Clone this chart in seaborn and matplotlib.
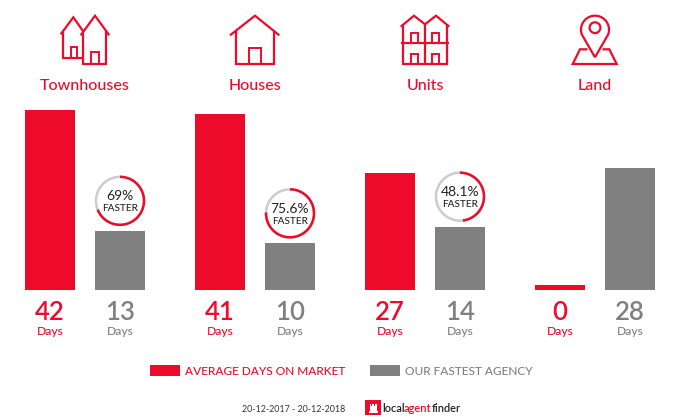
import numpy as np
import pandas as pd
import matplotlib
matplotlib.use("Agg")
import matplotlib.pyplot as plt
import seaborn as sns
from matplotlib.patches import Circle, Rectangle

RED = "#ee0a2a"
GREY = "#808080"

categories = ["Townhouses", "Houses", "Units", "Land"]
average_days = [42, 41, 27, 0]
fastest_days = [13, 10, 14, 28]
faster_pct = [69, 75.6, 48.1, None]
faster_labels = ["69%", "75.6%", "48.1%", None]
series_names = ["AVERAGE DAYS ON MARKET", "OUR FASTEST AGENCY"]

# the chart keeps a small stub under zero so the 0 day bar still shows
STUB = 1.2

sns.set_theme(style="white")
plt.rcParams["font.family"] = ["Lato", "DejaVu Sans"]

df = pd.DataFrame({
    "category": categories * 2,
    "series": [series_names[0]] * 4 + [series_names[1]] * 4,
    "days": average_days + fastest_days,
})
df["height"] = df["days"] + STUB

fig = plt.figure(figsize=(7, 4.2), dpi=100)
ax = fig.add_axes([0, 130 / 420, 1, 180 / 420])
sns.barplot(data=df, x="category", y="height", hue="series", order=categories,
            hue_order=series_names, palette=[RED, GREY], width=0.8235, gap=0.2857,
            saturation=1, legend=False, linewidth=0, ax=ax)
ax.set_xlim(-0.5, 3.6176)
ax.set_ylim(0, 42 + STUB)
ax.axis("off")

# overlay in pixel coordinates for icons and captions
ov = fig.add_axes([0, 0, 1, 1], facecolor="none")
ov.set_xlim(0, 700)
ov.set_ylim(420, 0)
ov.axis("off")


def to_px(x, y):
    px, py = ax.transData.transform((x, y))
    return px, 420 - py


def draw(points, lw=1.6):
    xs, ys = zip(*points)
    ov.plot(xs, ys, color=RED, lw=lw, solid_joinstyle="miter", solid_capstyle="butt")


def door(x0, x1, y0, y1):
    draw([(x0, y1), (x0, y0), (x1, y0), (x1, y1)], lw=1.4)


# Townhouses icon
draw([(60.7, 34.3), (73.3, 17.3), (83, 31)])
draw([(63.3, 32), (63.3, 58.3), (83, 58.3)])
door(70.7, 77.3, 46.7, 58.3)
draw([(80.7, 35.3), (95, 15.7), (109.3, 35.3)])
draw([(83.3, 31), (83.3, 64), (106, 64), (106, 31)])
door(91, 98.7, 51.7, 64)

# Houses icon
draw([(230, 35.3), (255, 15.7), (279.3, 35.3)])
draw([(235.7, 31), (235.7, 63.7), (274.3, 63.7), (274.3, 31)])
door(249.3, 260.7, 47.7, 63.7)

# Units icon
draw([(400.7, 26.7), (414, 15.7), (425, 24.3), (436, 15.7), (449.3, 26.7)])
draw([(403.3, 24), (403.3, 64), (446.7, 64), (446.7, 24)])
draw([(425, 24.3), (425, 64)])
draw([(400.7, 42.7), (449.3, 42.7)])
for x0 in [411, 432.3]:
    door(x0, x0 + 6.7, 32.7, 42.7)
    door(x0, x0 + 6.7, 54, 64)

# Land icon
theta = np.radians(np.linspace(200, -20, 60))
pin = [(595 + 14 * np.cos(t), 29.7 - 14 * np.sin(t)) for t in theta]
draw([(595, 57.3)] + pin + [(595, 57.3)])
ov.add_patch(Circle((595, 27.7), 5.4, fill=False, ec=RED, lw=1.6))
draw([(587.5, 49.3), (580, 49.3), (572.7, 64), (616.7, 64), (609.3, 49.3), (602.5, 49.3)])

for i, name in enumerate(categories):
    ov.text(to_px(i, 0)[0], 90, name, color=RED, fontsize=11.5, fontweight="medium",
            ha="center", va="baseline")

# value captions below the bars
for cont, vals, col in zip(ax.containers, [average_days, fastest_days], [RED, GREY]):
    for bar, v in zip(cont, vals):
        cx = bar.get_x() + bar.get_width() / 2
        px = to_px(cx, 0)[0]
        ov.text(px, 320, str(v), color=col, fontsize=18.5, fontweight="semibold",
                ha="center", va="baseline")
        ov.text(px, 335, "Days", color=col, fontsize=8.7, fontweight="medium",
                ha="center", va="baseline")

# "faster" rings above the grey bars
for bar, pct, label in zip(ax.containers[1], faster_pct, faster_labels):
    if pct is None:
        continue
    px, top = to_px(bar.get_x() + bar.get_width() / 2, bar.get_height())
    cy = top - 30
    t = np.radians(np.linspace(0, 360, 200))
    ov.plot(px + 24 * np.sin(t), cy - 24 * np.cos(t), color="#cccccc", lw=1.8)
    t = np.radians(np.linspace(0, 3.6 * pct, 200))
    ov.plot(px + 24 * np.sin(t), cy - 24 * np.cos(t), color=RED, lw=1.8,
            solid_capstyle="butt")
    ov.text(px, cy - 0.5, label, color="#222222", fontsize=10, ha="center", va="baseline")
    ov.text(px, cy + 10.5, "FASTER", color="#222222", fontsize=7.2, fontweight="medium",
            ha="center", va="baseline")

# legend
handles = [c[0] for c in ax.containers]
leg = fig.legend(handles, series_names, ncols=2, frameon=False,
                 loc="center left", bbox_to_anchor=(150 / 700, 1 - 371 / 420),
                 borderaxespad=0, borderpad=0, handlelength=2.51, handleheight=1.0,
                 handletextpad=0.42, columnspacing=2.1,
                 prop={"size": 8.6, "weight": "medium"})
for txt, col in zip(leg.get_texts(), [RED, GREY]):
    txt.set_color(col)

# footer
ov.text(345, 412, "20-12-2017 - 20-12-2018", color="#333333", fontsize=6.4,
        ha="right", va="baseline")
ov.add_patch(Rectangle((365, 400), 16, 15, color=RED, lw=0))
for rect in [(369.5, 406, 7, 5), (368.5, 411, 9, 1.5), (369.5, 403.5, 1.6, 2.5),
             (372.2, 403.5, 1.6, 2.5), (374.9, 403.5, 1.6, 2.5)]:
    ov.add_patch(Rectangle(rect[:2], rect[2], rect[3], color="white", lw=0))
x = 382
for part, col in [("local", "#222222"), ("agent", RED), ("finder", "#222222")]:
    t = ov.text(x, 412, part, color=col, fontsize=7.9, fontweight="semibold", va="baseline")
    x += t.get_window_extent(fig.canvas.get_renderer()).width - 0.5

fig.savefig("out.png", dpi=100)
